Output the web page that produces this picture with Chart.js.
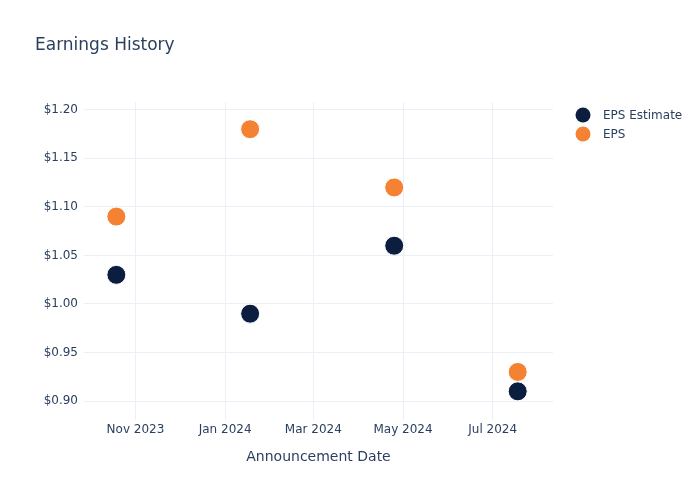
<!DOCTYPE html>
<html>
<head>
<meta charset="utf-8">
<script src="https://cdn.jsdelivr.net/npm/chart.js@4"></script>
<style>
  html, body { margin: 0; padding: 0; background: #fff; }
</style>
</head>
<body>
<canvas id="epsChart" width="700" height="500"></canvas>
<script>
// --- Data ---
const announceDates = ['2023-10-19', '2024-01-18', '2024-04-25', '2024-07-18'];
const epsEstimate = [1.03, 0.99, 1.06, 0.91];
const epsActual = [1.09, 1.18, 1.12, 0.93];

const xTickDates = ['2023-11-01', '2024-01-01', '2024-03-01', '2024-05-01', '2024-07-01'];
const xTickLabels = ['Nov 2023', 'Jan 2024', 'Mar 2024', 'May 2024', 'Jul 2024'];
const yTicks = [0.90, 0.95, 1.00, 1.05, 1.10, 1.15, 1.20];

const seriesNames = ['EPS Estimate', 'EPS'];
const seriesColors = ['#0b1e40', '#f58233'];

const toMs = s => Date.parse(s + 'T00:00:00Z');
const xTickMs = xTickDates.map(toMs);

const textColor = '#2a3f5f';
const gridColor = '#ebf0f8';
const fontFamily = '"DejaVu Sans", "Open Sans", sans-serif';

// --- Title + legend drawn like the original ---
const decorPlugin = {
    id: 'decor',
    afterDraw(chart) {
        const ctx = chart.ctx;
        ctx.save();
        ctx.fillStyle = textColor;
        ctx.font = '17px ' + fontFamily;
        ctx.textBaseline = 'middle';
        ctx.textAlign = 'left';
        ctx.fillText('Earnings History', 35, 46);

        ctx.font = '12px ' + fontFamily;
        seriesNames.forEach((name, i) => {
            const y = 115 + i * 19;
            ctx.beginPath();
            ctx.arc(583, y, 7.5, 0, Math.PI * 2);
            ctx.fillStyle = seriesColors[i];
            ctx.fill();
            ctx.fillStyle = textColor;
            ctx.fillText(name, 603, y + 1);
        });
        ctx.restore();
    }
};

const ctx = document.getElementById('epsChart').getContext('2d');
const chart = new Chart(ctx, {
    type: 'scatter',
    data: {
        datasets: [
            {
                label: seriesNames[0],
                data: announceDates.map((d, i) => ({ x: toMs(d), y: epsEstimate[i] })),
                backgroundColor: seriesColors[0],
                borderColor: '#ffffff',
                borderWidth: 1,
                pointRadius: 9.5,
                order: 1
            },
            {
                label: seriesNames[1],
                data: announceDates.map((d, i) => ({ x: toMs(d), y: epsActual[i] })),
                backgroundColor: seriesColors[1],
                borderColor: '#ffffff',
                borderWidth: 1,
                pointRadius: 9.5,
                order: 0
            }
        ]
    },
    options: {
        responsive: false,
        animation: false,
        layout: { padding: { top: 102, right: 147, bottom: 0, left: 0 } },
        plugins: {
            legend: { display: false },
            title: { display: false },
            tooltip: { enabled: false }
        },
        scales: {
            x: {
                type: 'linear',
                min: Date.UTC(2023, 8, 27),
                max: Date.UTC(2024, 7, 11),
                afterBuildTicks: scale => { scale.ticks = xTickMs.map(v => ({ value: v })); },
                afterFit: scale => { scale.height = 80; },
                grid: { color: gridColor, drawTicks: false },
                border: { display: false },
                ticks: {
                    color: textColor,
                    font: { family: fontFamily, size: 12 },
                    padding: 3,
                    maxRotation: 0,
                    autoSkip: false,
                    callback: v => xTickLabels[xTickMs.indexOf(v)] || ''
                },
                title: {
                    display: true,
                    text: 'Announcement Date',
                    color: textColor,
                    font: { family: fontFamily, size: 14 },
                    padding: { top: 0, bottom: 34 }
                }
            },
            y: {
                min: 0.8805,
                max: 1.208,
                afterBuildTicks: scale => { scale.ticks = yTicks.map(v => ({ value: v })); },
                afterFit: scale => { scale.width = 84; },
                grid: { color: gridColor, drawTicks: false },
                border: { display: false },
                ticks: {
                    color: textColor,
                    font: { family: fontFamily, size: 12 },
                    padding: 6,
                    callback: v => '$' + v.toFixed(2)
                }
            }
        }
    },
    plugins: [decorPlugin]
});
</script>
</body>
</html>
